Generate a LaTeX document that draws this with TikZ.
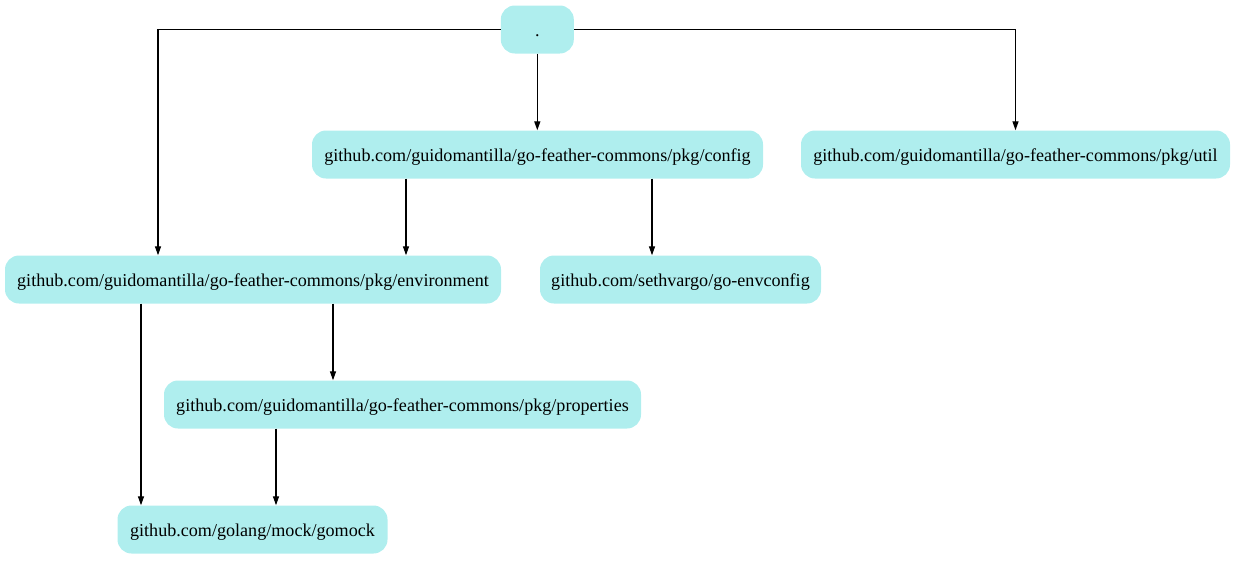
\documentclass[tikz,border=0pt]{standalone}
\usepackage{fontspec}
\setmainfont{Liberation Serif}
\usetikzlibrary{arrows.meta}
\definecolor{pturq}{HTML}{AFEEEE}
\tikzset{
  pkg/.style={fill=pturq, rounded corners=14pt, minimum height=48pt, inner sep=0pt, text height=17pt, text depth=3pt, font=\fontsize{18.1pt}{20pt}\selectfont},
  edge/.style={draw=black, line width=1.3pt, -{Triangle[length=9pt,width=6pt]}}
}
\begin{document}
\begin{tikzpicture}[x=1pt,y=-1pt]
\useasboundingbox (0,0) rectangle (1236,560);
\node[pkg, minimum width=73pt] (root) at (537.3,29.5) {.};
\node[pkg, minimum width=451pt] (config) at (537.5,154.5) {github.com/guidomantilla/go-feather-commons/pkg/config};
\node[pkg, minimum width=429pt] (util) at (1015.5,154.5) {github.com/guidomantilla/go-feather-commons/pkg/util};
\node[pkg, minimum width=496pt] (env) at (253,279.5) {github.com/guidomantilla/go-feather-commons/pkg/environment};
\node[pkg, minimum width=281pt] (envc) at (680.5,279.5) {github.com/sethvargo/go-envconfig};
\node[pkg, minimum width=477pt] (props) at (402.5,404.5) {github.com/guidomantilla/go-feather-commons/pkg/properties};
\node[pkg, minimum width=270pt] (mock) at (252.5,529.5) {github.com/golang/mock/gomock};

\draw[edge] (root.west) -| ([xshift=-95pt]env.north);
\draw[edge] (root.south) -- (root.south |- config.north);
\draw[edge] (root.east) -| (util.north);
\draw[edge] ([xshift=-131.5pt]config.south) -- ([xshift=-131.5pt]config.south |- env.north);
\draw[edge] ([xshift=114.5pt]config.south) -- ([xshift=114.5pt]config.south |- envc.north);
\draw[edge] ([xshift=-112pt]env.south) -- ([xshift=-112pt]env.south |- mock.north);
\draw[edge] ([xshift=80pt]env.south) -- ([xshift=80pt]env.south |- props.north);
\draw[edge] ([xshift=-126.5pt]props.south) -- ([xshift=-126.5pt]props.south |- mock.north);
\end{tikzpicture}
\end{document}
